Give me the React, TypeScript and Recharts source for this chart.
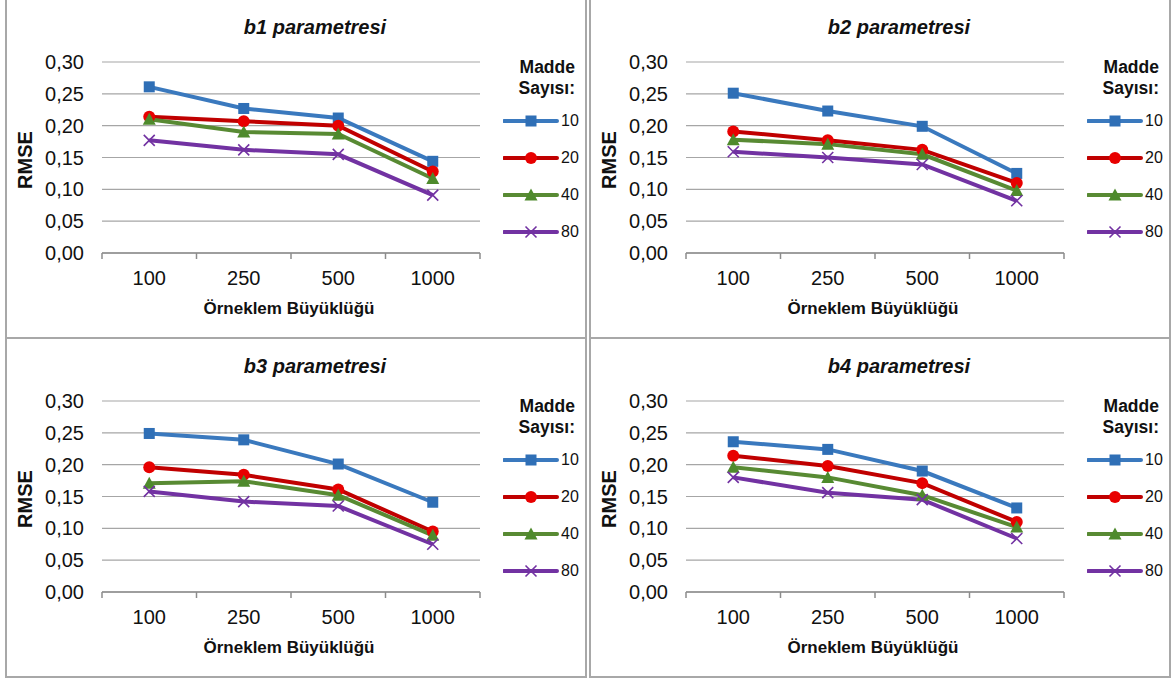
import { CartesianGrid, Line, LineChart, XAxis, YAxis } from 'recharts';

// Sample sizes on the x axis and the item counts used as series.
const CATEGORIES = ['100', '250', '500', '1000'];
const ITEM_COUNTS = ['10', '20', '40', '80'];
const Y_TICKS = [0, 0.05, 0.1, 0.15, 0.2, 0.25, 0.3];

// RMSE per parameter, one array per item count.
const B1_10 = [0.261, 0.227, 0.212, 0.144];
const B1_20 = [0.214, 0.207, 0.2, 0.128];
const B1_40 = [0.21, 0.19, 0.187, 0.117];
const B1_80 = [0.177, 0.162, 0.155, 0.091];

const B2_10 = [0.251, 0.223, 0.199, 0.125];
const B2_20 = [0.191, 0.177, 0.162, 0.11];
const B2_40 = [0.178, 0.171, 0.155, 0.098];
const B2_80 = [0.159, 0.15, 0.139, 0.082];

const B3_10 = [0.249, 0.239, 0.201, 0.141];
const B3_20 = [0.196, 0.184, 0.161, 0.095];
const B3_40 = [0.171, 0.174, 0.152, 0.089];
const B3_80 = [0.158, 0.142, 0.135, 0.075];

const B4_10 = [0.236, 0.224, 0.19, 0.132];
const B4_20 = [0.214, 0.198, 0.171, 0.11];
const B4_40 = [0.196, 0.18, 0.152, 0.102];
const B4_80 = [0.18, 0.156, 0.145, 0.084];

const FONT = '"Liberation Sans", Arial, sans-serif';
const GRID = '#a6a6a6';
const AXIS = '#8c8c8c';

const SERIES_STYLE = [
  { color: '#3a79be', marker: '#2f6fb6', shape: 'square' },
  { color: '#c00000', marker: '#e80000', shape: 'circle' },
  { color: '#588a33', marker: '#4e8a2c', shape: 'triangle' },
  { color: '#7232a2', marker: '#7232a2', shape: 'cross' },
] as const;

const CHART_W = 582;
const CHART_H = 338;
const Y_AXIS_W = 97;
const MARGIN = { top: 62, right: 107, bottom: 45, left: 0 };
const BAND = (CHART_W - Y_AXIS_W - MARGIN.right - MARGIN.left) / CATEGORIES.length;

type Shape = (typeof SERIES_STYLE)[number]['shape'];

function Marker(props: { cx: number; cy: number; shape: Shape; color: string }) {
  const { cx, cy, shape, color } = props;
  if (shape === 'square') {
    return <rect x={cx - 5.5} y={cy - 5.5} width={11} height={11} fill={color} />;
  }
  if (shape === 'circle') {
    return <circle cx={cx} cy={cy} r={6} fill={color} />;
  }
  if (shape === 'triangle') {
    return <path d={`M${cx},${cy - 6.5}L${cx + 6.5},${cy + 5.5}L${cx - 6.5},${cy + 5.5}Z`} fill={color} />;
  }
  return (
    <path
      d={`M${cx - 5.5},${cy - 5.5}L${cx + 5.5},${cy + 5.5}M${cx + 5.5},${cy - 5.5}L${cx - 5.5},${cy + 5.5}`}
      stroke={color}
      strokeWidth={1.6}
    />
  );
}

function dotRenderer(shape: Shape, color: string) {
  return (p: any) => {
    if (p.cx == null || p.cy == null) return <g key={`d-${p.index}`} />;
    return (
      <g key={`d-${p.index}`}>
        <Marker cx={p.cx} cy={p.cy} shape={shape} color={color} />
      </g>
    );
  };
}

function CategoryTick(props: any) {
  const { x, y, index } = props;
  const label = CATEGORIES[index];
  if (!label) return null;
  return (
    <text x={x + BAND / 2} y={y} dy="0.71em" textAnchor="middle" fill="#111" fontSize={20} fontFamily={FONT}>
      {label}
    </text>
  );
}

function Legend() {
  return (
    <div style={{ position: 'absolute', left: 470, top: 55, width: 112, fontFamily: FONT }}>
      <div
        style={{
          position: 'absolute',
          right: 12,
          top: 2,
          textAlign: 'right',
          fontWeight: 'bold',
          fontSize: 17.5,
          lineHeight: '21px',
          color: '#111',
        }}
      >
        Madde
        <br />
        Sayısı:
      </div>
      {ITEM_COUNTS.map((count, i) => {
        const s = SERIES_STYLE[i];
        const cy = 66 + i * 37;
        return (
          <div key={count} style={{ position: 'absolute', left: 28, top: cy - 10, height: 20, width: 84 }}>
            <svg width={56} height={20} style={{ position: 'absolute', left: 0, top: 0 }}>
              <line x1={1} x2={54} y1={10} y2={10} stroke={s.color} strokeWidth={4} strokeLinecap="round" />
              <Marker cx={28} cy={10} shape={s.shape} color={s.marker} />
            </svg>
            <span style={{ position: 'absolute', left: 58, top: 1, fontSize: 16, lineHeight: '18px', color: '#111' }}>
              {count}
            </span>
          </div>
        );
      })}
    </div>
  );
}

function Panel(props: { left: number; top: number; title: string; series: number[][] }) {
  const data = CATEGORIES.map((name, i) => {
    const row: Record<string, number | string> = { name, pos: i + 0.5 };
    ITEM_COUNTS.forEach((count, k) => {
      row[`n${count}`] = props.series[k][i];
    });
    return row;
  });

  return (
    <div style={{ position: 'absolute', left: props.left, top: props.top, width: CHART_W, height: CHART_H }}>
      <div
        style={{
          position: 'absolute',
          left: 0,
          top: -2,
          width: CHART_W,
          height: 341,
          boxSizing: 'border-box',
          border: '2px solid #a8a8a8',
        }}
      />
      <div
        style={{
          position: 'absolute',
          left: 310,
          top: 27,
          transform: 'translate(-50%, -50%)',
          whiteSpace: 'nowrap',
          fontFamily: FONT,
          fontWeight: 'bold',
          fontStyle: 'italic',
          fontSize: 20,
          color: '#111',
        }}
      >
        {props.title}
      </div>
      <div
        style={{
          position: 'absolute',
          left: 20,
          top: 160,
          transform: 'translate(-50%, -50%) rotate(-90deg)',
          fontFamily: FONT,
          fontWeight: 'bold',
          fontSize: 20,
          color: '#111',
        }}
      >
        RMSE
      </div>
      <div
        style={{
          position: 'absolute',
          left: 284,
          top: 309,
          transform: 'translate(-50%, -50%)',
          whiteSpace: 'nowrap',
          fontFamily: FONT,
          fontWeight: 'bold',
          fontSize: 17,
          color: '#111',
        }}
      >
        Örneklem Büyüklüğü
      </div>
      <Legend />
      <div style={{ position: 'absolute', left: 0, top: 0 }}>
        <LineChart width={CHART_W} height={CHART_H} data={data} margin={MARGIN}>
          <CartesianGrid horizontal vertical={false} stroke={GRID} strokeWidth={1.2} />
          <XAxis
            dataKey="pos"
            type="number"
            domain={[0, CATEGORIES.length]}
            ticks={[0, 1, 2, 3, 4]}
            allowDecimals
            height={40}
            stroke={AXIS}
            strokeWidth={1.5}
            tickSize={6}
            tickMargin={12}
            tick={<CategoryTick />}
            interval={0}
          />
          <YAxis
            domain={[0, 0.3]}
            ticks={Y_TICKS}
            width={Y_AXIS_W}
            axisLine={false}
            tickLine={false}
            tickSize={0}
            tickMargin={18}
            interval={0}
            tickFormatter={(v: number) => v.toFixed(2).replace('.', ',')}
            tick={{ fill: '#111', fontSize: 20, fontFamily: FONT }}
          />
          {ITEM_COUNTS.map((count, k) => (
            <Line
              key={count}
              dataKey={`n${count}`}
              stroke={SERIES_STYLE[k].color}
              strokeWidth={4}
              dot={dotRenderer(SERIES_STYLE[k].shape, SERIES_STYLE[k].marker)}
              activeDot={false}
              isAnimationActive={false}
            />
          ))}
        </LineChart>
      </div>
    </div>
  );
}

export default function App() {
  return (
    <div style={{ position: 'absolute', left: 0, top: 0, width: 1174, height: 684, background: '#fff', overflow: 'hidden' }}>
      <Panel left={5} top={0} title="b1 parametresi" series={[B1_10, B1_20, B1_40, B1_80]} />
      <Panel left={589} top={0} title="b2 parametresi" series={[B2_10, B2_20, B2_40, B2_80]} />
      <Panel left={5} top={339} title="b3 parametresi" series={[B3_10, B3_20, B3_40, B3_80]} />
      <Panel left={589} top={339} title="b4 parametresi" series={[B4_10, B4_20, B4_40, B4_80]} />
    </div>
  );
}
